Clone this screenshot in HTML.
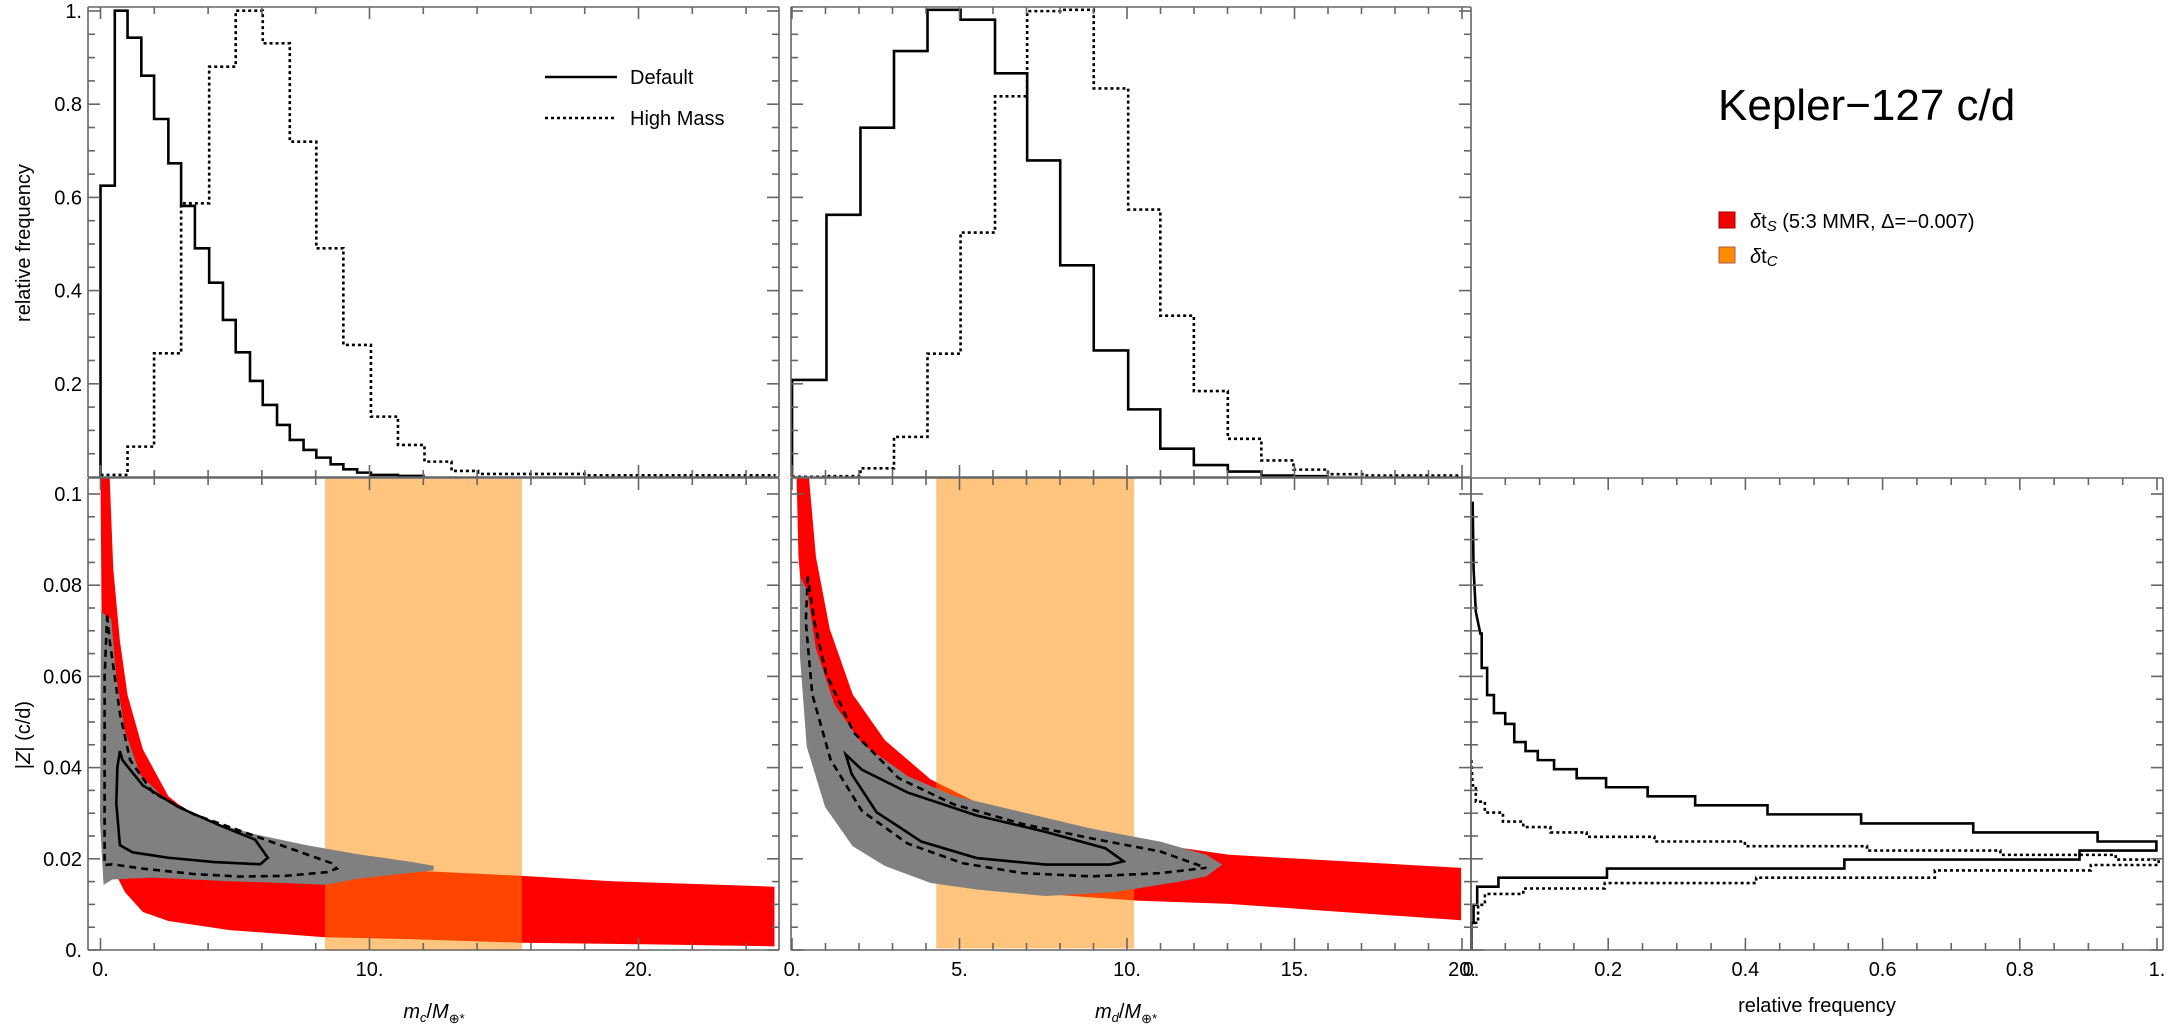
<!DOCTYPE html>
<html><head><meta charset="utf-8">
<style>
html,body{margin:0;padding:0;background:#fff;}
svg{display:block;font-family:"Liberation Sans",sans-serif;}
.t{font-size:20px;fill:#000;}
</style></head>
<body>
<svg id="s" width="2169" height="1027" viewBox="0 0 2169 1027" xmlns="http://www.w3.org/2000/svg">
<g transform="translate(0,0) scale(0.5102,0.3333)" fill="none" stroke="#000">
<path vector-effect="non-scaling-stroke" stroke-width="2.6" d="M197,1431 V557 H225 V32 H250 V113 H277 V227 H302 V357 H330 V490 H355 V618 H382 V745 H410 V848 H437 V960 H462 V1057 H490 V1143 H515 V1215 H543 V1275 H568 V1320 H595 V1350 H620 V1373 H648 V1393 H673 V1408 H700 V1418 H727 V1425 H780 V1428 H830 V1431"/>
<path vector-effect="non-scaling-stroke" stroke-width="2.6" stroke-dasharray="3,3" d="M197,1425 H250 V1340 H302 V1060 H355 V610 H410 V200 H462 V32 H515 V130 H568 V425 H620 V745 H673 V1035 H727 V1250 H780 V1335 H832 V1385 H885 V1413 H937 V1422 H1150 V1426 H1520"/>
</g>
<g transform="translate(770,0) scale(0.4592,0.655)">
<path fill="#ff0000" d="M58,730 L85,730 L100,850 L130,960 L180,1060 L250,1130 L350,1190 L450,1225 L600,1255 L800,1285 L1000,1305 L1505,1325 L1505,1405 L1200,1390 L1000,1380 L800,1375 L600,1365 L450,1350 L350,1335 L250,1305 L180,1260 L130,1200 L100,1120 L80,1000 L62,850 Z"/>
<rect x="362" y="730" width="431" height="718" fill="#ff8c00" fill-opacity="0.5"/>
<path fill="#808080" d="M65,880 L80,900 L100,990 L140,1075 L200,1135 L300,1185 L400,1215 L550,1240 L700,1265 L850,1285 L950,1305 L985,1320 L950,1338 L900,1345 L750,1362 L600,1368 L450,1358 L350,1348 L250,1322 L180,1292 L120,1232 L80,1140 L65,1000 Z"/>
<g fill="none" stroke="#000">
<path vector-effect="non-scaling-stroke" stroke-width="2.6" d="M48,728 V580 H123 V328 H197 V195 H270 V78 H343 V15 H415 V30 H490 V112 H560 V245 H632 V405 H705 V535 H780 V625 H850 V685 H923 V710 H997 V720 H1070 V726 H1140 V727 H1215 V728"/>
<path vector-effect="non-scaling-stroke" stroke-width="2.6" stroke-dasharray="3,3" d="M48,728 H123 V727 H197 V715 H270 V667 H343 V540 H415 V355 H490 V147 H560 V17 H632 V15 H705 V135 H780 V320 H850 V482 H923 V597 H997 V670 H1070 V703 H1140 V717 H1215 V724 H1290 V726 H1505"/>
<path vector-effect="non-scaling-stroke" stroke-width="2.6" stroke-dasharray="7,5" d="M82,880 L78,950 L92,1060 L132,1160 L200,1238 L300,1288 L420,1318 L550,1333 L700,1338 L850,1333 L950,1325 L850,1300 L700,1280 L550,1258 L400,1228 L280,1188 L182,1118 L122,1028 L97,950 Z"/>
<path vector-effect="non-scaling-stroke" stroke-width="2.6" d="M165,1152 L178,1182 L232,1240 L330,1285 L450,1310 L600,1320 L740,1320 L770,1315 L730,1295 L600,1270 L450,1245 L300,1210 L200,1175 Z"/>
</g>
</g>
<g transform="translate(0,460) scale(0.5102,0.3616)">
<path fill="#ff0000" d="M197,50 L215,50 L222,300 L235,500 L250,650 L280,800 L330,930 L420,1030 L520,1080 L637,1115 L800,1135 L1023,1150 L1200,1165 L1518,1180 L1518,1345 L1200,1338 L1023,1335 L800,1325 L637,1320 L450,1300 L330,1275 L280,1250 L245,1195 L225,1140 L210,1000 L200,600 Z"/>
<rect x="637" y="52" width="386" height="1305" fill="#ff8c00" fill-opacity="0.5"/>
<path fill="#808080" d="M198,420 L218,440 L228,600 L245,750 L275,870 L325,940 L400,995 L500,1035 L600,1065 L700,1090 L800,1110 L850,1122 L850,1135 L700,1158 L640,1175 L560,1170 L450,1165 L300,1155 L220,1160 L203,1175 L196,1000 Z"/>
<g fill="none" stroke="#000">
<path vector-effect="non-scaling-stroke" stroke-width="2.6" stroke-dasharray="7,5" d="M210,430 L215,500 L225,600 L235,700 L255,830 L300,920 L380,980 L480,1030 L580,1080 L650,1115 L660,1130 L640,1140 L560,1150 L470,1152 L380,1145 L280,1130 L220,1118 L205,1120 L205,1000 L205,600 Z"/>
<path vector-effect="non-scaling-stroke" stroke-width="2.6" d="M235,805 L240,830 L280,900 L350,960 L430,1010 L500,1050 L525,1100 L510,1118 L420,1112 L330,1100 L260,1085 L235,1065 L228,950 L230,850 Z"/>
</g>
</g>
<g transform="translate(1460,460) scale(0.4522,0.3616)" fill="none" stroke="#000">
<path vector-effect="non-scaling-stroke" stroke-width="2.6" d="M28,115 L30,300 L35,420 L45,480 H48 V575 H60 V650 H75 V700 H100 V730 H120 V780 H145 V805 H172 V830 H208 V855 H258 V880 H323 V905 H415 V930 H520 V955 H680 V980 H887 V1005 H1135 V1030 H1410 V1055 H1540 V1080 H1370 V1105 H850 V1130 H325 V1155 H85 V1180 H38 V1230 H30 V1280 H25 V1355"/>
<path vector-effect="non-scaling-stroke" stroke-width="2.6" stroke-dasharray="3,3" d="M25,830 L28,900 H35 V945 H55 V975 H95 V1000 H140 V1015 H200 V1030 H280 V1042 H430 V1055 H630 V1068 H900 V1080 H1195 V1092 H1450 V1105 H1545 V1120 H1395 V1135 H1050 V1155 H655 V1170 H320 V1185 H140 V1200 H55 V1230 H40 V1280 H25 V1355"/>
</g>
<g id="axes" stroke="#666" stroke-width="1.6" fill="none"></g>
<g id="labels"></g>
<line x1="545" y1="77" x2="617" y2="77" stroke="#000" stroke-width="2.6"/>
<line x1="545" y1="118" x2="617" y2="118" stroke="#000" stroke-width="2.6" stroke-dasharray="3,3"/>
<text class="t" x="630" y="84">Default</text>
<text class="t" x="630" y="125">High Mass</text>
<text x="1718" y="120" font-size="44" fill="#000">Kepler−127 c/d</text>
<rect x="1719" y="212" width="16" height="16" fill="#ee0000" stroke="#900" stroke-width="1"/>
<rect x="1719" y="247" width="16" height="16" fill="#ff8c00" stroke="#a55" stroke-width="1"/>
<text x="1750" y="228" font-size="20" fill="#000"><tspan font-style="italic">δ</tspan>t<tspan font-style="italic" font-size="15" dy="3">S</tspan><tspan dy="-3"> (5:3 MMR, Δ=−0.007)</tspan></text>
<text x="1750" y="263" font-size="20" fill="#000"><tspan font-style="italic">δ</tspan>t<tspan font-style="italic" font-size="15" dy="3">C</tspan></text>
<text class="t" transform="translate(30,243) rotate(-90)" text-anchor="middle" font-size="18">relative frequency</text>
<text class="t" transform="translate(30,735) rotate(-90)" text-anchor="middle" font-size="18">|<tspan font-style="italic">Z</tspan>| (c/d)</text>
<text class="t" x="434" y="1018" text-anchor="middle" font-size="19"><tspan font-style="italic">m</tspan><tspan font-style="italic" font-size="13" dy="4">c</tspan><tspan dy="-4">/</tspan><tspan font-style="italic">M</tspan><tspan font-size="13" dy="5">⊕*</tspan></text>
<text class="t" x="1126" y="1018" text-anchor="middle" font-size="19"><tspan font-style="italic">m</tspan><tspan font-style="italic" font-size="13" dy="4">d</tspan><tspan dy="-4">/</tspan><tspan font-style="italic">M</tspan><tspan font-size="13" dy="5">⊕*</tspan></text>
<text class="t" x="1817" y="1012" text-anchor="middle" font-size="18">relative frequency</text>
</svg>
<script>
(function(){
var NS="http://www.w3.org/2000/svg",ax=document.getElementById('axes'),lb=document.getElementById('labels');
function L(x1,y1,x2,y2){var e=document.createElementNS(NS,'line');e.setAttribute('x1',x1);e.setAttribute('y1',y1);e.setAttribute('x2',x2);e.setAttribute('y2',y2);ax.appendChild(e);}
function T(x,y,s,a){var e=document.createElementNS(NS,'text');e.setAttribute('x',x);e.setAttribute('y',y);e.setAttribute('class','t');e.setAttribute('text-anchor',a);e.textContent=s;lb.appendChild(e);}
function R(x0,y0,x1,y1){L(x0,y0,x1,y0);L(x0,y1,x1,y1);L(x0,y0,x0,y1);L(x1,y0,x1,y1);}
R(88,7,779,477);R(791,7,1471,477);R(88,478,779,950);R(791,478,1471,950);R(1471,478,2163,950);
function xt(x0,px,v0,v1,step,major,yT,yB,lab,fmt){for(var v=v0;v<=v1+1e-9;v+=step){var x=x0+v*px;var m=Math.abs(v/major-Math.round(v/major))<1e-6;var l=m?12:7;L(x,yB,x,yB-l);L(x,yT,x,yT+l);if(lab&&m)T(x,976,fmt(v),'middle');}}
function yt(y0,py,v0,v1,step,major,xL,xR,lab,fmt){for(var v=v0;v<=v1+1e-9;v+=step){var y=y0-v*py;var m=Math.abs(v/major-Math.round(v/major))<1e-6;var l=m?12:7;L(xL,y,xL+l,y);L(xR,y,xR-l,y);if(lab&&m)T(82,y+7,fmt(v),'end');}}
var f1=function(v){return v==0?"0.":(Math.round(v)+".")};
xt(100.5,26.9,0,25,2,10,7,477,false);xt(100.5,26.9,0,25,2,10,478,950,true,f1);
xt(792,33.5,0,20,1,5,7,477,false);xt(792,33.5,0,20,1,5,478,950,true,f1);
xt(1471,686,0,1,0.05,0.2,478,950,true,function(v){return v<1e-6?"0.":(v>0.999?"1.":v.toFixed(1));});
var fy=function(v){return v>0.999?"1.":v.toFixed(1)};
yt(477,466,0.05,1,0.05,0.2,88,779,true,fy);yt(477,466,0.05,1,0.05,0.2,791,1471,false);
var fz=function(v){return v<1e-9?"0.":(Math.abs(v-0.1)<1e-9?"0.1":v.toFixed(2))};
yt(950,4560,0,0.1,0.005,0.02,88,779,true,fz);yt(950,4560,0,0.1,0.005,0.02,791,1471,false);yt(950,4560,0,0.1,0.005,0.02,1471,2163,false);
})();
</script>
</body></html>
